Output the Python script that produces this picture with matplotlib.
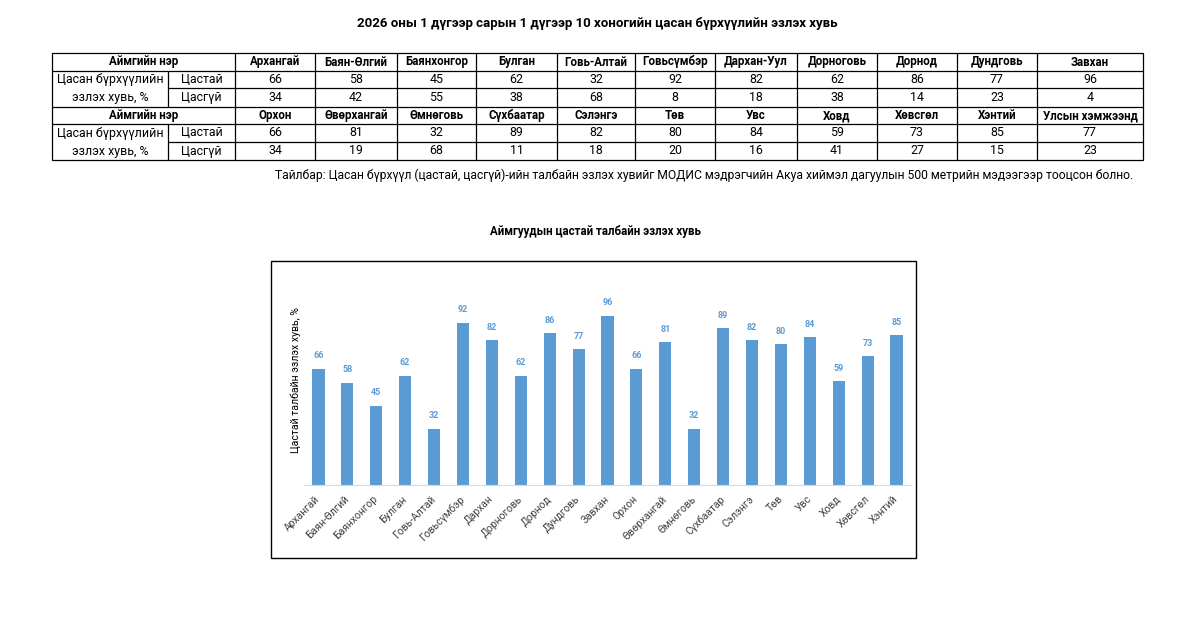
import matplotlib
matplotlib.use('Agg')
import matplotlib.pyplot as plt
from matplotlib.patches import Rectangle

plt.rcParams['font.family'] = ['Roboto', 'DejaVu Sans']

# Table data (two blocks of 11 columns)
aimag_row1 = ['Архангай', 'Баян-Өлгий', 'Баянхонгор', 'Булган', 'Говь-Алтай', 'Говьсүмбэр',
              'Дархан-Уул', 'Дорноговь', 'Дорнод', 'Дундговь', 'Завхан']
snow_row1 = [66, 58, 45, 62, 32, 92, 82, 62, 86, 77, 96]
nosnow_row1 = [34, 42, 55, 38, 68, 8, 18, 38, 14, 23, 4]

aimag_row2 = ['Орхон', 'Өвөрхангай', 'Өмнөговь', 'Сүхбаатар', 'Сэлэнгэ', 'Төв',
              'Увс', 'Ховд', 'Хөвсгөл', 'Хэнтий', 'Улсын хэмжээнд']
snow_row2 = [66, 81, 32, 89, 82, 80, 84, 59, 73, 85, 77]
nosnow_row2 = [34, 19, 68, 11, 18, 20, 16, 41, 27, 15, 23]

# Chart data
chart_labels = ['Архангай', 'Баян-Өлгий', 'Баянхонгор', 'Булган', 'Говь-Алтай', 'Говьсүмбэр',
                'Дархан', 'Дорноговь', 'Дорнод', 'Дундговь', 'Завхан', 'Орхон', 'Өвөрхангай',
                'Өмнөговь', 'Сүхбаатар', 'Сэлэнгэ', 'Төв', 'Увс', 'Ховд', 'Хөвсгөл', 'Хэнтий']
chart_values = [66, 58, 45, 62, 32, 92, 82, 62, 86, 77, 96, 66, 81, 32, 89, 82, 80, 84, 59, 73, 85]

title = '2026 оны 1 дүгээр сарын 1 дүгээр 10 хоногийн цасан бүрхүүлийн эзлэх хувь'
note = ('Тайлбар: Цасан бүрхүүл (цастай, цасгүй)-ийн талбайн эзлэх хувийг МОДИС мэдрэгчийн '
        'Акуа хиймэл дагуулын 500 метрийн мэдээгээр тооцсон болно.')
chart_title = 'Аймгуудын цастай талбайн эзлэх хувь'
ylabel = 'Цастай талбайн эзлэх хувь, %'

W, H = 1194, 629
fig = plt.figure(figsize=(W / 100, H / 100), dpi=100)

# overlay axes in pixel coordinates for the table and frame
lay = fig.add_axes([0, 0, 1, 1])
lay.set_xlim(0, W)
lay.set_ylim(H, 0)
lay.axis('off')

lay.text(597, 24, title, ha='center', va='center', fontsize=9.5, fontweight='bold')

# table grid
col_edges = [235, 315, 397, 476, 557, 635, 715, 797, 877, 957, 1037, 1143]
row_edges = [53, 71, 88, 107, 124, 142, 160]
left, sub = 52, 168
lw = 0.9
fs = 8.9
fs_bold = 8.3


def hline(y, x0, x1):
    lay.plot([x0, x1], [y, y], color='black', lw=lw, solid_capstyle='butt')


def vline(x, y0, y1):
    lay.plot([x, x], [y0, y1], color='black', lw=lw, solid_capstyle='butt')


lay.add_patch(Rectangle((left, row_edges[0]), col_edges[-1] - left, row_edges[-1] - row_edges[0],
                        fill=False, lw=lw, ec='black'))
for i in (1, 3, 4):
    hline(row_edges[i], left, col_edges[-1])
for i in (2, 5):
    hline(row_edges[i], sub, col_edges[-1])
for x in col_edges[:-1]:
    vline(x, row_edges[0], row_edges[-1])
for r0 in (1, 4):
    vline(sub, row_edges[r0], row_edges[r0 + 2])

blocks = [(aimag_row1, snow_row1, nosnow_row1), (aimag_row2, snow_row2, nosnow_row2)]
for b, (names, snow, nosnow) in enumerate(blocks):
    r = b * 3
    yc = [(row_edges[r + k] + row_edges[r + k + 1]) / 2 for k in range(3)]
    lay.text((left + col_edges[0]) / 2, yc[0], 'Аймгийн нэр', ha='center', va='center',
             fontsize=fs_bold, fontweight='bold')
    lay.text((left + sub) / 2, yc[1], 'Цасан бүрхүүлийн', ha='center', va='center', fontsize=fs)
    lay.text((left + sub) / 2, yc[2], 'эзлэх хувь, %', ha='center', va='center', fontsize=fs)
    lay.text((sub + col_edges[0]) / 2, yc[1], 'Цастай', ha='center', va='center', fontsize=fs)
    lay.text((sub + col_edges[0]) / 2, yc[2], 'Цасгүй', ha='center', va='center', fontsize=fs)
    for j in range(len(names)):
        xc = (col_edges[j] + col_edges[j + 1]) / 2
        lay.text(xc, yc[0], names[j], ha='center', va='center', fontsize=fs_bold, fontweight='bold')
        lay.text(xc, yc[1], str(snow[j]), ha='center', va='center', fontsize=fs)
        lay.text(xc, yc[2], str(nosnow[j]), ha='center', va='center', fontsize=fs)

lay.text(1133, 175, note, ha='right', va='center', fontsize=8.7)

lay.text(595, 231, chart_title, ha='center', va='center', fontsize=8.3, fontweight='bold')
lay.add_patch(Rectangle((271, 261), 645, 297, fill=False, lw=1.0, ec='black'))
lay.text(296, 380, ylabel, rotation=90, ha='center', va='center', fontsize=7.6)

# bar chart
ax = fig.add_axes([304 / W, 1 - 485 / H, (911 - 304) / W, (485 - 291) / H])
x = list(range(len(chart_values)))
bars = ax.bar(x, chart_values, width=0.42, color='#5B9BD5')
ax.set_xlim(-0.5, len(chart_values) - 0.5)
ax.set_ylim(0, 110)
for xi, v in zip(x, chart_values):
    ax.annotate(str(v), (xi, v), xytext=(0, 6), textcoords='offset points', ha='center',
                va='bottom', fontsize=6.5, fontweight='bold', color='#5B9BD5')
ax.set_xticks(x)
ax.set_xticklabels(chart_labels, rotation=45, ha='right', va='center', rotation_mode='anchor',
                   fontsize=7.5, color='#404040')
ax.tick_params(axis='x', length=0, pad=9)
ax.set_yticks([])
for s in ('top', 'right', 'left'):
    ax.spines[s].set_visible(False)
ax.spines['bottom'].set_color('#D9D9D9')
ax.patch.set_alpha(0)

fig.savefig('out.png', dpi=100)
